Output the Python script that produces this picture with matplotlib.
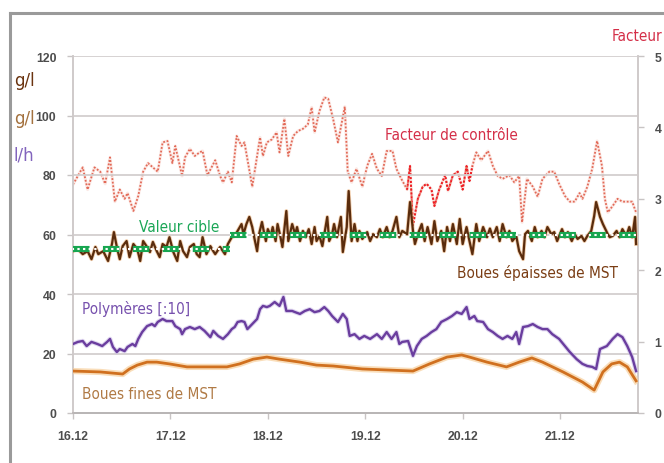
import matplotlib
matplotlib.use("Agg")
import matplotlib.pyplot as plt
from matplotlib import font_manager
from matplotlib.lines import Line2D

# === Data (x in days after 16.12) ===
facteur_days = [0.00, 0.10, 0.15, 0.22, 0.28, 0.33, 0.38, 0.43, 0.48, 0.53, 0.56, 0.62, 0.67, 0.72,
                0.77, 0.82, 0.87, 0.92, 0.97, 1.02, 1.05, 1.12, 1.15, 1.20, 1.25, 1.30, 1.33, 1.38,
                1.46, 1.51, 1.54, 1.59, 1.63, 1.68, 1.73, 1.76, 1.84, 1.89, 1.92, 1.95, 1.99, 2.04,
                2.09, 2.12, 2.17, 2.21, 2.26, 2.31, 2.36, 2.41, 2.45, 2.48, 2.53, 2.58, 2.62, 2.67,
                2.72, 2.79, 2.82, 2.86, 2.91, 2.97, 3.02, 3.07, 3.12, 3.17, 3.22, 3.28, 3.32, 3.37,
                3.43, 3.46, 3.49, 3.54, 3.59, 3.63, 3.68, 3.71, 3.76, 3.82, 3.85, 3.90, 3.95, 4.00,
                4.04, 4.07, 4.10, 4.14, 4.19, 4.26, 4.31, 4.36, 4.41, 4.48, 4.53, 4.58, 4.61, 4.66,
                4.72, 4.77, 4.82, 4.89, 4.94, 4.99, 5.05, 5.10, 5.15, 5.20, 5.23, 5.28, 5.33, 5.38,
                5.43, 5.46, 5.49, 5.54, 5.59, 5.64, 5.69, 5.74, 5.78]
facteur = [3.20, 3.44, 3.13, 3.44, 3.38, 3.21, 3.58, 2.96, 3.13, 3.00, 3.08, 2.83, 3.04, 3.38,
           3.50, 3.44, 3.38, 3.79, 3.81, 3.50, 3.74, 3.32, 3.58, 3.70, 3.60, 3.65, 3.67, 3.33,
           3.54, 3.32, 3.23, 3.38, 3.23, 3.88, 3.74, 3.79, 3.17, 3.60, 3.86, 3.60, 3.79, 3.83,
           3.93, 3.65, 4.12, 3.60, 3.88, 3.95, 3.98, 4.04, 4.28, 3.93, 4.23, 4.42, 4.40, 4.12,
           3.79, 4.29, 3.38, 3.23, 3.42, 3.17, 3.46, 3.63, 3.42, 3.32, 3.67, 3.67, 3.42, 3.28,
           3.13, 3.46, 2.63, 3.00, 3.17, 3.21, 3.13, 2.90, 3.13, 3.33, 3.11, 3.33, 3.38, 3.13,
           3.46, 3.25, 3.46, 3.65, 3.54, 3.67, 3.46, 3.32, 3.28, 3.33, 3.23, 3.32, 2.67, 3.28,
           3.17, 3.03, 3.28, 3.38, 3.38, 3.21, 3.04, 2.96, 2.96, 3.08, 3.00, 3.17, 3.42, 3.81,
           3.46, 3.00, 2.81, 2.90, 3.00, 2.96, 2.96, 2.96, 2.81]

epaisses_days = [0.00, 0.05, 0.10, 0.15, 0.19, 0.23, 0.26, 0.31, 0.36, 0.40, 0.42, 0.45, 0.48, 0.51,
                 0.55, 0.58, 0.62, 0.66, 0.69, 0.72, 0.76, 0.79, 0.82, 0.86, 0.89, 0.92, 0.96, 0.99,
                 1.03, 1.07, 1.10, 1.13, 1.17, 1.20, 1.24, 1.27, 1.30, 1.33, 1.37, 1.41, 1.44, 1.46,
                 1.51, 1.56, 1.59, 1.63, 1.66, 1.69, 1.73, 1.75, 1.78, 1.81, 1.84, 1.86, 1.89, 1.91,
                 1.94, 1.96, 1.98, 2.00, 2.03, 2.05, 2.08, 2.10, 2.13, 2.15, 2.19, 2.21, 2.25, 2.28,
                 2.30, 2.33, 2.36, 2.39, 2.42, 2.45, 2.48, 2.50, 2.53, 2.56, 2.61, 2.63, 2.66, 2.68,
                 2.71, 2.75, 2.77, 2.81, 2.83, 2.86, 2.89, 2.92, 2.94, 2.97, 3.02, 3.05, 3.08, 3.12,
                 3.15, 3.18, 3.22, 3.25, 3.28, 3.32, 3.35, 3.38, 3.43, 3.46, 3.49, 3.51, 3.54, 3.58,
                 3.61, 3.64, 3.68, 3.71, 3.74, 3.78, 3.81, 3.84, 3.87, 3.90, 3.94, 3.97, 4.00, 4.04,
                 4.07, 4.10, 4.14, 4.17, 4.21, 4.25, 4.28, 4.31, 4.35, 4.38, 4.41, 4.45, 4.48, 4.51,
                 4.55, 4.58, 4.62, 4.64, 4.67, 4.71, 4.74, 4.77, 4.81, 4.84, 4.87, 4.91, 4.94, 4.97,
                 5.02, 5.05, 5.08, 5.12, 5.15, 5.18, 5.22, 5.25, 5.28, 5.32, 5.35, 5.37, 5.41, 5.44,
                 5.49, 5.51, 5.54, 5.58, 5.61, 5.64, 5.68, 5.71, 5.74, 5.77, 5.78]
epaisses = [54.4, 55.1, 53.4, 54.4, 51.7, 55.8, 53.4, 54.4, 51.1, 56.8, 60.8, 55.8, 51.7, 56.1,
            57.8, 52.4, 56.8, 55.1, 51.1, 57.8, 55.8, 54.1, 57.5, 54.4, 52.4, 56.8, 55.8, 59.1,
            54.1, 51.1, 57.8, 54.4, 52.4, 55.8, 56.8, 53.4, 52.4, 59.1, 53.4, 56.1, 54.4, 53.4,
            55.8, 53.4, 56.8, 59.1, 59.5, 61.2, 63.5, 60.1, 63.5, 65.9, 62.5, 59.1, 54.4, 60.1,
            64.2, 60.8, 57.8, 61.8, 59.5, 62.5, 57.8, 63.5, 59.1, 55.8, 67.9, 57.8, 63.5, 60.1,
            62.5, 57.8, 61.2, 59.1, 61.8, 56.8, 62.5, 57.8, 59.5, 56.1, 65.9, 57.8, 60.1, 63.5,
            59.1, 65.9, 54.1, 62.5, 74.6, 57.8, 63.5, 57.8, 61.2, 58.5, 60.8, 57.8, 60.1, 59.1,
            61.8, 59.1, 62.5, 59.1, 61.2, 65.9, 59.1, 61.2, 60.1, 70.9, 61.2, 56.8, 60.1, 63.5,
            57.8, 62.5, 56.8, 64.5, 57.8, 61.2, 54.4, 62.5, 57.8, 63.5, 56.8, 65.2, 56.8, 62.5,
            57.8, 53.4, 63.5, 57.8, 62.5, 59.1, 62.0, 59.1, 62.5, 57.8, 63.5, 59.1, 61.2, 57.8,
            59.5, 54.4, 51.7, 60.1, 61.2, 57.8, 62.5, 59.1, 61.2, 59.1, 62.5, 60.1, 60.8, 57.8,
            61.8, 59.1, 60.8, 57.8, 60.1, 58.5, 59.5, 57.8, 59.5, 61.2, 66.2, 70.9, 65.9, 63.5,
            60.1, 59.1, 59.5, 61.2, 59.1, 61.8, 59.5, 62.5, 59.1, 65.9, 56.8]

# target value, two steps
cible_days_1 = [0.0, 1.61]
cible_1 = [55, 55]
cible_days_2 = [1.61, 5.78]
cible_2 = [60, 60]

polymeres_days = [0.00, 0.05, 0.10, 0.14, 0.19, 0.25, 0.30, 0.35, 0.38, 0.41, 0.45, 0.48, 0.53, 0.56,
                  0.61, 0.64, 0.67, 0.71, 0.76, 0.81, 0.84, 0.87, 0.92, 0.96, 1.02, 1.05, 1.10, 1.12,
                  1.15, 1.20, 1.25, 1.30, 1.35, 1.41, 1.44, 1.49, 1.54, 1.59, 1.63, 1.66, 1.69, 1.73,
                  1.76, 1.79, 1.84, 1.89, 1.92, 1.95, 1.99, 2.02, 2.07, 2.12, 2.16, 2.19, 2.25, 2.28,
                  2.33, 2.38, 2.43, 2.48, 2.53, 2.58, 2.62, 2.66, 2.69, 2.72, 2.77, 2.81, 2.84, 2.89,
                  2.94, 2.99, 3.05, 3.12, 3.17, 3.22, 3.27, 3.32, 3.35, 3.38, 3.44, 3.49, 3.53, 3.58,
                  3.63, 3.68, 3.73, 3.78, 3.84, 3.89, 3.94, 3.99, 4.04, 4.07, 4.12, 4.15, 4.21, 4.26,
                  4.31, 4.36, 4.41, 4.46, 4.51, 4.55, 4.58, 4.62, 4.67, 4.72, 4.77, 4.82, 4.87, 4.92,
                  4.99, 5.05, 5.10, 5.17, 5.23, 5.28, 5.33, 5.37, 5.41, 5.48, 5.54, 5.59, 5.64, 5.69,
                  5.74, 5.78]
polymeres = [23.2, 23.9, 24.2, 22.5, 23.9, 23.2, 22.5, 23.9, 24.9, 22.2, 20.5, 21.5, 20.8, 22.2,
             23.2, 22.5, 24.9, 27.2, 29.2, 29.9, 29.2, 30.6, 31.6, 30.9, 30.9, 29.2, 28.2, 26.5,
             28.2, 28.9, 28.2, 28.9, 27.6, 25.5, 27.6, 25.9, 24.9, 26.5, 28.2, 28.9, 30.6, 30.9,
             30.6, 28.2, 29.9, 31.6, 34.9, 36.0, 35.6, 36.0, 37.3, 36.0, 39.0, 34.3, 34.3, 33.9,
             33.3, 34.3, 34.9, 33.9, 34.3, 35.6, 34.3, 32.6, 31.6, 30.6, 33.3, 31.6, 25.9, 26.5,
             24.9, 25.9, 24.9, 26.5, 24.9, 27.2, 24.9, 27.2, 23.2, 23.9, 24.2, 19.2, 22.5, 24.9,
             25.9, 27.2, 28.2, 30.6, 31.6, 32.6, 33.9, 33.3, 35.6, 31.6, 32.6, 30.9, 30.6, 28.2,
             27.2, 25.9, 24.9, 25.9, 24.9, 27.2, 23.2, 28.9, 29.2, 29.9, 28.9, 28.2, 28.2, 26.5,
             24.9, 22.5, 20.5, 18.1, 16.5, 15.8, 15.5, 14.8, 21.5, 22.5, 24.9, 26.5, 25.5, 22.5,
             18.8, 14.1]

fines_days = [0.00, 0.28, 0.51, 0.58, 0.66, 0.76, 0.86, 0.99, 1.17, 1.37, 1.58, 1.71, 1.85, 1.99,
              2.12, 2.33, 2.50, 2.67, 2.97, 3.49, 3.66, 3.84, 3.99, 4.07, 4.25, 4.45, 4.58, 4.71,
              4.82, 5.03, 5.23, 5.35, 5.44, 5.53, 5.61, 5.69, 5.78]
fines = [14.1, 13.8, 13.1, 14.8, 16.1, 17.1, 17.1, 16.5, 15.5, 15.5, 15.5, 16.5, 18.1, 18.8,
         18.1, 17.1, 16.1, 15.8, 14.8, 14.1, 16.5, 18.8, 19.5, 18.8, 17.1, 15.5, 17.1, 18.5,
         17.1, 13.8, 10.4, 7.7, 13.8, 16.5, 17.1, 15.5, 10.8]

day_ticks = [0, 1, 2, 3, 4, 5]
day_labels = ["16.12", "17.12", "18.12", "19.12", "20.12", "21.12"]
left_ticks = [0, 20, 40, 60, 80, 100, 120]
right_ticks = [0, 1, 2, 3, 4, 5]

# === Fonts ===
names = {f.name for f in font_manager.fontManager.ttflist}
condensed = [f for f in font_manager.fontManager.ttflist
             if f.name == "DejaVu Sans" and f.stretch == "condensed" and f.style == "normal"
             and f.weight in (400, "normal")]
if "Liberation Sans Narrow" in names:
    LABEL_FONT = dict(family="Liberation Sans Narrow", fontsize=13)
elif condensed:
    LABEL_FONT = dict(family="DejaVu Sans", fontstretch="condensed", fontsize=11)
else:
    LABEL_FONT = dict(family="Liberation Sans", fontsize=11.2, fontstretch="condensed")
TICKF = "Liberation Sans" if "Liberation Sans" in names else "DejaVu Sans"

W, H = 664, 464
fig = plt.figure(figsize=(W / 100, H / 100), dpi=100)
ax_r = fig.add_axes([73 / W, 1 - 414 / H, (638 - 73) / W, (414 - 57) / H])
ax_l = ax_r.twinx()
ax_l.set_position(ax_r.get_position())
ax_l.set_zorder(1)
ax_l.patch.set_visible(False)

# gridlines on left scale
for v in left_ticks[1:]:
    ax_l.axhline(v, color="#d3cfcf", lw=1.3, zorder=0)

# === Control factor (right scale 0-5) ===
ax_r.plot(facteur_days, facteur, color="#f8d2ca", lw=2.2, alpha=0.5, zorder=1)
ax_r.plot(facteur_days, facteur, color="#e26a58", lw=1.3, ls=(0, (1, 1)), zorder=2)
seg = [i for i, d in enumerate(facteur_days) if 3.43 <= d <= 4.10]
ax_r.plot([facteur_days[i] for i in seg], [facteur[i] for i in seg],
          color="#f01c24", lw=1.4, ls=(0, (1, 1)), zorder=3)

# === Left scale series ===
ax_l.plot(fines_days, fines, color="#f7cf9c", lw=4.5, alpha=0.7, zorder=4)
ax_l.plot(fines_days, fines, color="#d0701f", lw=2.0, zorder=5)
ax_l.plot(polymeres_days, polymeres, color="#cbbde6", lw=3.2, alpha=0.6, zorder=4)
ax_l.plot(polymeres_days, polymeres, color="#6a3d9e", lw=1.7, zorder=5)
ax_l.plot(epaisses_days, epaisses, color="#eab07a", lw=2.8, alpha=0.6, zorder=6)
ax_l.plot(epaisses_days, epaisses, color="#5a2c0d", lw=1.6, zorder=7)
for xs, ys in ((cible_days_1, cible_1), (cible_days_2, cible_2)):
    ax_l.plot(xs, ys, color="#17a650", lw=4.4, ls=(0, (2.7, 2.2)), zorder=8, dash_capstyle="butt")
    ax_l.plot(xs, ys, color="white", lw=1.5, ls=(0.6, (1.1, 1.6)), zorder=9, dash_capstyle="butt")

ax_r.set_xlim(0, 5.8)
ax_l.set_xlim(0, 5.8)
ax_r.set_ylim(0, 5)
ax_l.set_ylim(0, 120)

# left scale sits on the left side, factor scale on the right
ax_l.yaxis.tick_left()
ax_r.yaxis.tick_right()
ax_l.set_yticks(left_ticks)
ax_r.set_yticks(right_ticks)
ax_r.set_xticks(day_ticks)
ax_r.set_xticklabels(day_labels)

tick_kw = dict(colors="#c8c4c4", labelcolor="#4d4d4d", length=4, width=1.0)
ax_r.tick_params(axis="x", pad=8, **tick_kw)
ax_r.tick_params(axis="y", pad=8, **tick_kw)
ax_l.tick_params(axis="y", pad=8, **tick_kw)
for lab in ax_r.get_xticklabels() + ax_r.get_yticklabels() + ax_l.get_yticklabels():
    lab.set_fontfamily(TICKF)
    lab.set_fontweight("bold")
    lab.set_fontsize(8.8)

for a in (ax_r, ax_l):
    a.spines["top"].set_visible(False)
    a.spines["left"].set_color("#cfcaca")
    a.spines["right"].set_color("#cfcaca")
    a.spines["bottom"].set_color("#b8b4b4")
    for s in ("left", "right", "bottom"):
        a.spines[s].set_linewidth(1.2)

# === Labels ===
def label(x, y, s, c, scale=1.0):
    kw = dict(LABEL_FONT)
    kw["fontsize"] = kw["fontsize"] * scale
    fig.text(x / W, 1 - y / H, s, color=c, va="baseline", ha="left", **kw)

label(385, 140, "Facteur de contrôle", "#d42f48")
label(612, 41, "Facteur", "#d42f48")
label(139, 232, "Valeur cible", "#1aa656")
label(457, 278, "Boues épaisses de MST", "#7a3d14")
label(82, 314, "Polymères [:10]", "#7650ad")
label(82, 399, "Boues fines de MST", "#b07a45")
label(14, 86, "g/l", "#6b3410", 1.2)
label(14, 124, "g/l", "#a4723f", 1.2)
label(14, 161, "l/h", "#8264bd", 1.2)

# outer frame
fig.add_artist(Line2D([10 / W, 10 / W], [0, 1 - 14 / H], color="#9a9a9a", lw=2.2))
fig.add_artist(Line2D([10 / W, 1], [1 - 14 / H, 1 - 14 / H], color="#9a9a9a", lw=2.2))

fig.savefig("out.png", dpi=100)
